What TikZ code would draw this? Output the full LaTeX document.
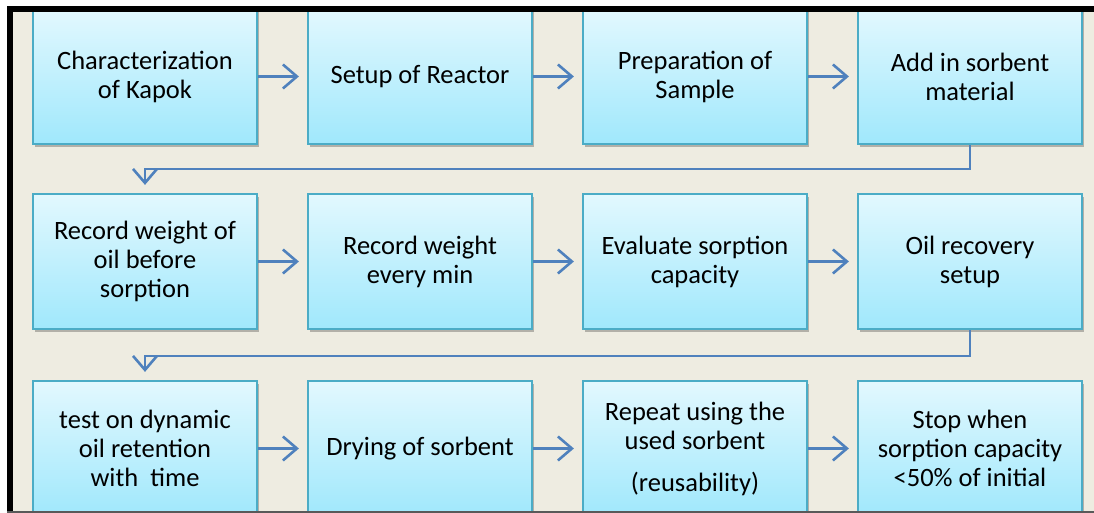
\documentclass[tikz,border=0pt]{standalone}
\usepackage{fontspec}
\setmainfont{Carlito}
\usetikzlibrary{arrows.meta,shadows}
\definecolor{page_beige}{RGB}{238,236,225}
\definecolor{box_top}{RGB}{226,248,254}
\definecolor{box_bottom}{RGB}{160,232,252}
\definecolor{box_edge}{RGB}{75,172,198}
\definecolor{arrow_blue}{RGB}{79,129,189}

\begin{document}
\begin{tikzpicture}[x=1pt,y=1pt,semithick,font=\fontsize{26.5}{29}\selectfont]
    \tikzstyle{stepbox}=[draw=box_edge, line width=2.2pt, rectangle, minimum width=224pt, minimum height=135pt,
        top color=box_top, bottom color=box_bottom, align=center, text=black, inner sep=0pt,
        drop shadow={shadow xshift=2pt, shadow yshift=-3pt, opacity=0.25, fill=black}]
    \tikzstyle{flow}=[draw=arrow_blue, line width=2.6pt, -{Straight Barb[length=14pt,width=24pt,line width=2.6pt]}]

    \useasboundingbox (0,0) rectangle (1094,513);
    \fill[page_beige] (13,0) rectangle (1094,501);

    % row 1
    \node[stepbox] (kapok)   at (145,436.5) {Characterization\\of Kapok};
    \node[stepbox] (reactor) at (420,436.5) {Setup of Reactor};
    \node[stepbox] (sample)  at (695,436.5) {Preparation of\\Sample};
    \node[stepbox] (sorbent) at (970,436.5) {Add in sorbent\\material};
    % row 2
    \node[stepbox] (oilwt)    at (145,251.5) {Record weight of\\oil before\\sorption};
    \node[stepbox] (everymin) at (420,251.5) {Record weight\\every min};
    \node[stepbox] (capacity) at (695,251.5) {Evaluate sorption\\capacity};
    \node[stepbox] (recovery) at (970,251.5) {Oil recovery\\setup};
    % row 3
    \node[stepbox] (retention) at (145,64.5) {test on dynamic\\oil retention\\with\ \ time};
    \node[stepbox] (drying)    at (420,64.5) {Drying of sorbent};
    \node[stepbox] (reuse)     at (695,64.5) {Repeat using the\\used sorbent\\[13pt](reusability)};
    \node[stepbox] (stop)      at (970,64.5) {Stop when\\sorption capacity\\<50\% of initial};

    \coordinate (turnA) at (970,344);
    \coordinate (turnB) at (970,157);
    \path[flow,shorten >=8pt]
     (kapok)    edge (reactor)
     (reactor)  edge (sample)
     (sample)   edge (sorbent)
     (oilwt)    edge (everymin)
     (everymin) edge (capacity)
     (capacity) edge (recovery)
     (retention) edge (drying)
     (drying)   edge (reuse)
     (reuse)    edge (stop)
     ;
    \draw[flow,shorten >=8pt] (sorbent.south) -- (turnA) -| (oilwt.north);
    \draw[flow,shorten >=8pt] (recovery.south) -- (turnB) -| (retention.north);

    % frame
    \fill[black] (7,0) rectangle (13,507);
    \fill[black] (7,501) rectangle (1094,507);
    \fill[white] (0,507) rectangle (1094,513);
    \draw[gray!70!black, line width=1.5pt] (7,0.75) -- (1094,0.75);
\end{tikzpicture}
\end{document}
